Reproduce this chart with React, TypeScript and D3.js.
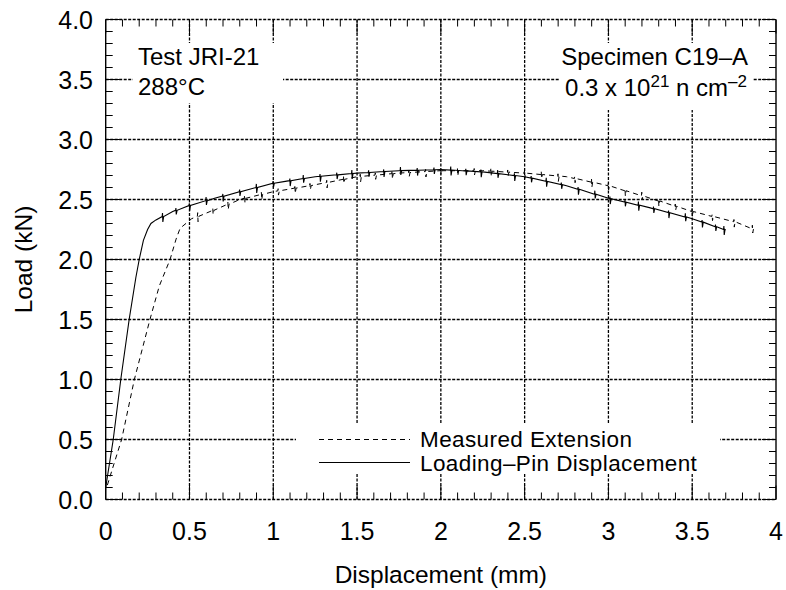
import React from "react";
import * as d3 from "d3";

// Main curve points (displacement mm, load kN)
const pinX = [0, 0.045, 0.09, 0.14, 0.18, 0.2, 0.225, 0.25, 0.27, 0.3, 0.4, 0.5, 0.65, 0.8, 1.0, 1.25, 1.5, 1.75, 2.0, 2.25, 2.5, 2.75, 3.0, 3.25, 3.5, 3.7];
const pinY = [0.1, 0.5, 1.0, 1.5, 1.85, 2.0, 2.16, 2.25, 2.3, 2.33, 2.4, 2.45, 2.51, 2.565, 2.635, 2.69, 2.72, 2.74, 2.75, 2.73, 2.69, 2.615, 2.51, 2.43, 2.34, 2.245];
const extX = [0.01, 0.05, 0.095, 0.171, 0.264, 0.32, 0.384, 0.42, 0.444, 0.513, 0.623, 0.8, 1.0, 1.24, 1.5, 1.75, 2.0, 2.25, 2.5, 2.75, 3.0, 3.25, 3.5, 3.75, 3.88];
const extY = [0.12, 0.3, 0.5, 1.0, 1.5, 1.78, 2.0, 2.17, 2.26, 2.34, 2.4, 2.5, 2.565, 2.62, 2.69, 2.72, 2.74, 2.74, 2.72, 2.69, 2.615, 2.51, 2.4, 2.315, 2.245];
// unloading blips (x positions, mm)
const pinBlips = [0.34, 0.42, 0.5, 0.6, 0.7, 0.8, 0.9, 1.0, 1.1, 1.18, 1.28, 1.38, 1.47, 1.57, 1.66, 1.76, 1.86, 1.96, 2.06, 2.15, 2.24, 2.34, 2.44, 2.54, 2.63, 2.72, 2.82, 2.92, 3.01, 3.1, 3.18, 3.27, 3.36, 3.46, 3.56, 3.64, 3.69];
const extBlips = [0.55, 0.64, 0.73, 0.83, 0.93, 1.03, 1.13, 1.22, 1.32, 1.42, 1.52, 1.61, 1.71, 1.81, 1.91, 2.0, 2.1, 2.2, 2.3, 2.4, 2.5, 2.6, 2.7, 2.8, 2.9, 3.0, 3.1, 3.2, 3.3, 3.4, 3.5, 3.62, 3.75, 3.86];

const xTicks = [0, 0.5, 1, 1.5, 2, 2.5, 3, 3.5, 4];
const xTickLabels = ["0", "0.5", "1", "1.5", "2", "2.5", "3", "3.5", "4"];
const yTicks = [0, 0.5, 1, 1.5, 2, 2.5, 3, 3.5, 4];
const yTickLabels = ["0.0", "0.5", "1.0", "1.5", "2.0", "2.5", "3.0", "3.5", "4.0"];
const legendLabels = ["Measured Extension", "Loading\u2013Pin Displacement"];

const W = 786, H = 590;
const L = 105.7, R = 776, T = 19.5, B = 499.5;
const FONT = "'Liberation Sans', Arial, Helvetica, sans-serif";

function buildPoints(xs: number[], ys: number[], blips: number[]) {
  const interp = d3.scaleLinear().domain(xs).range(ys).clamp(true);
  const base = xs.map((x, i) => [x, ys[i]] as [number, number]);
  const extra: [number, number][] = [];
  blips.forEach((bx, i) => {
    const y = interp(bx);
    const up = i % 3 === 0 ? 0.03 : 0.018;
    const dn = i % 2 === 0 ? 0.045 : 0.035;
    extra.push([bx - 0.003, y]);
    extra.push([bx - 0.001, y + up]);
    extra.push([bx + 0.001, y - dn]);
    extra.push([bx + 0.006, y]);
  });
  const all = base.concat(extra).sort((a, b) => a[0] - b[0]);
  return all;
}

export default function App() {
  const x = d3.scaleLinear().domain([0, 4]).range([L, R]);
  const y = d3.scaleLinear().domain([0, 4]).range([B, T]);
  const line = d3.line<[number, number]>().x(d => x(d[0])).y(d => y(d[1]));
  const pinPts = buildPoints(pinX, pinY, pinBlips);
  const extPts = buildPoints(extX, extY, extBlips);

  const minorX = d3.range(0, 41).map(i => i / 10);
  const minorY = d3.range(0, 41).map(i => i / 10);
  const grid = "3 1.5";

  return (
    <svg width={W} height={H} style={{ position: "absolute", left: 0, top: 0, background: "#fff" }} fontFamily={FONT}>
      <rect x={0} y={0} width={W} height={H} fill="#fff" />
      {/* grid */}
      <g stroke="#000" strokeWidth={1.3} strokeDasharray={grid}>
        {xTicks.slice(1, -1).map(t => (
          <line key={"gx" + t} x1={x(t)} x2={x(t)} y1={T} y2={B} />
        ))}
        {yTicks.slice(1, -1).map(t => (
          <line key={"gy" + t} x1={L} x2={R} y1={y(t)} y2={y(t)} />
        ))}
      </g>
      {/* text boxes masking grid */}
      <rect x={133} y={43} width={150} height={60} fill="#fff" />
      <rect x={559} y={43} width={194} height={67} fill="#fff" />
      <rect x={296} y={424} width={424} height={50} fill="#fff" />
      {/* frame */}
      <line x1={L} x2={R} y1={T} y2={T} stroke="#000" strokeWidth={1.4} strokeDasharray={grid} />
      <line x1={L} x2={R} y1={B} y2={B} stroke="#000" strokeWidth={1.4} strokeDasharray={grid} />
      <line x1={L} x2={L} y1={T} y2={B} stroke="#000" strokeWidth={1.4} />
      <line x1={R} x2={R} y1={T} y2={B} stroke="#000" strokeWidth={1.4} />
      {/* ticks */}
      <g stroke="#000" strokeWidth={1}>
        {minorX.map((t, i) => {
          const len = i % 5 === 0 ? 14 : 7;
          return (
            <g key={"tx" + i}>
              <line x1={x(t)} x2={x(t)} y1={B} y2={B - len} />
              <line x1={x(t)} x2={x(t)} y1={T} y2={T + len} />
            </g>
          );
        })}
        {minorY.map((t, i) => {
          const len = i % 5 === 0 ? 14 : 7;
          return (
            <g key={"ty" + i}>
              <line x1={L} x2={L + len} y1={y(t)} y2={y(t)} />
              <line x1={R} x2={R - len} y1={y(t)} y2={y(t)} />
            </g>
          );
        })}
      </g>
      {/* tick labels */}
      <g fontSize={25} fill="#000">
        {xTicks.map((t, i) => (
          <text key={"xl" + t} x={x(t)} y={540} textAnchor="middle">{xTickLabels[i]}</text>
        ))}
        {yTicks.map((t, i) => (
          <text key={"yl" + t} x={93} y={y(t) + 9} textAnchor="end">{yTickLabels[i]}</text>
        ))}
      </g>
      {/* axis titles */}
      <text x={(L + R) / 2} y={583} textAnchor="middle" fontSize={24.5}>Displacement (mm)</text>
      <text transform={`translate(32,${(T + B) / 2}) rotate(-90)`} textAnchor="middle" fontSize={24.5}>Load (kN)</text>
      {/* curves */}
      <path d={line(extPts) || ""} fill="none" stroke="#000" strokeWidth={1} strokeDasharray="5 4" />
      <path d={line(pinPts) || ""} fill="none" stroke="#000" strokeWidth={1.1} />
      {/* annotations */}
      <g fontSize={24} fill="#000">
        <text x={138} y={65}>Test JRI-21</text>
        <text x={138} y={95}>288°C</text>
        <text x={748} y={65} textAnchor="end">Specimen C19–A</text>
        <text x={747} y={96} textAnchor="end">
          0.3 x 10<tspan dy={-9} fontSize={17}>21</tspan><tspan dy={9}> n cm</tspan><tspan dy={-9} fontSize={17}>–2</tspan>
        </text>
      </g>
      {/* legend */}
      <line x1={319} x2={410} y1={439.5} y2={439.5} stroke="#000" strokeWidth={1} strokeDasharray="5 4" />
      <line x1={319} x2={410} y1={462.5} y2={462.5} stroke="#000" strokeWidth={1.1} />
      <g fontSize={22.5} fill="#000" letterSpacing={0.4}>
        <text x={420} y={447}>{legendLabels[0]}</text>
        <text x={420} y={470.5}>{legendLabels[1]}</text>
      </g>
    </svg>
  );
}
